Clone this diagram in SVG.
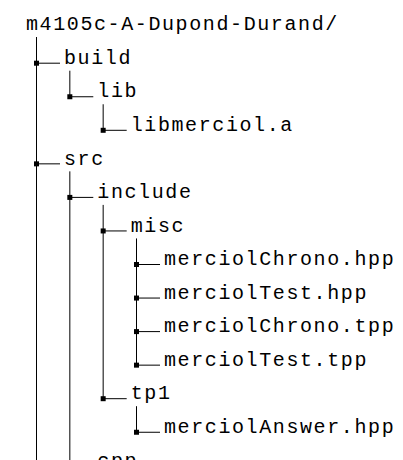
<svg xmlns="http://www.w3.org/2000/svg" width="403" height="460" viewBox="0 0 403 460">
<style>
  text { font-family: "Liberation Mono", "DejaVu Sans Mono", monospace; font-size: 20px; letter-spacing: 1.6px; fill: #000; }
  .ln { stroke: #000; stroke-width: 1; fill: none; }
  .dot { fill: #000; }
</style>
<rect width="403" height="460" fill="#fff"/>
<g id="connectors">
  <path class="ln" d="M36.5 37 V460"/>
  <path class="ln" d="M69.83 70.7 V96.75"/>
  <path class="ln" d="M103.17 104.25 V130.3"/>
  <path class="ln" d="M69.83 171.35 V460"/>
  <path class="ln" d="M103.17 204.9 V398.7"/>
  <path class="ln" d="M136.5 238.45 V365.15"/>
  <path class="ln" d="M136.5 406.2 V432.25"/>
  <path class="ln" d="M36.5 63.2 H60"/><rect class="dot" x="34" y="60.7" width="5" height="5"/>
  <path class="ln" d="M69.83 96.75 H93.3"/><rect class="dot" x="67.33" y="94.25" width="5" height="5"/>
  <path class="ln" d="M103.17 130.3 H126.7"/><rect class="dot" x="100.67" y="127.8" width="5" height="5"/>
  <path class="ln" d="M36.5 163.85 H60"/><rect class="dot" x="34" y="161.35" width="5" height="5"/>
  <path class="ln" d="M69.83 197.4 H93.3"/><rect class="dot" x="67.33" y="194.9" width="5" height="5"/>
  <path class="ln" d="M103.17 230.95 H126.7"/><rect class="dot" x="100.67" y="228.45" width="5" height="5"/>
  <path class="ln" d="M136.5 264.5 H160"/><rect class="dot" x="134" y="262" width="5" height="5"/>
  <path class="ln" d="M136.5 298.05 H160"/><rect class="dot" x="134" y="295.55" width="5" height="5"/>
  <path class="ln" d="M136.5 331.6 H160"/><rect class="dot" x="134" y="329.1" width="5" height="5"/>
  <path class="ln" d="M136.5 365.15 H160"/><rect class="dot" x="134" y="362.65" width="5" height="5"/>
  <path class="ln" d="M103.17 398.7 H126.7"/><rect class="dot" x="100.67" y="396.2" width="5" height="5"/>
  <path class="ln" d="M136.5 432.25 H160"/><rect class="dot" x="134" y="429.75" width="5" height="5"/>
  <path class="ln" d="M69.83 465.8 H93.3"/>
</g>
<g id="root"><text x="26" y="29.9">m4105c-A-Dupond-Durand/</text></g>
<g id="build"><text x="64" y="63.9">build</text></g>
<g id="lib"><text x="97.3" y="97.45">lib</text></g>
<g id="libmerciol"><text x="130.7" y="131">libmerciol.a</text></g>
<g id="src"><text x="64" y="164.55">src</text></g>
<g id="include"><text x="97.3" y="198.1">include</text></g>
<g id="misc"><text x="130.7" y="231.65">misc</text></g>
<g id="merciolChrono-hpp"><text x="164" y="265.2">merciolChrono.hpp</text></g>
<g id="merciolTest-hpp"><text x="164" y="298.75">merciolTest.hpp</text></g>
<g id="merciolChrono-tpp"><text x="164" y="332.3">merciolChrono.tpp</text></g>
<g id="merciolTest-tpp"><text x="164" y="365.85">merciolTest.tpp</text></g>
<g id="tp1"><text x="130.7" y="399.4">tp1</text></g>
<g id="merciolAnswer-hpp"><text x="164" y="432.95">merciolAnswer.hpp</text></g>
<g id="cpp"><text x="97.3" y="466.5">cpp</text></g>
</svg>
